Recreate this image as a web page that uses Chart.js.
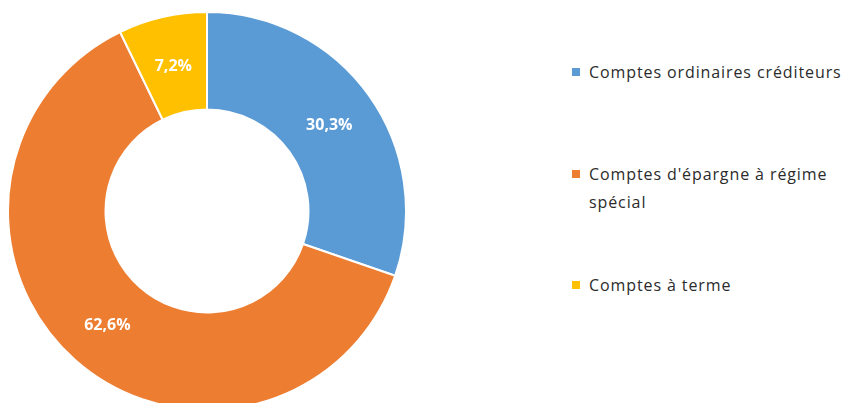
<!DOCTYPE html>
<html lang="fr">
<head>
<meta charset="utf-8">
<script src="https://cdn.jsdelivr.net/npm/chart.js@4/dist/chart.umd.min.js"></script>
<style>
  html, body { margin: 0; padding: 0; background: #fff; overflow: hidden; }
  body { width: 845px; height: 403px; position: relative; }
  #wrap { position: absolute; left: 7px; top: 11px; width: 400px; height: 400px; }
  #legend { position: absolute; left: 572px; top: 0; font-family: "Open Sans", sans-serif; font-size: 16px; letter-spacing: 0.9px; color: #2b2b2b; }
  .item { position: absolute; left: 0; width: 272px; line-height: 28px; white-space: normal; }
  .sw { position: absolute; left: 0; top: 10px; width: 8px; height: 8px; }
  .txt { display: block; margin-left: 17px; }
</style>
</head>
<body>
<div id="wrap"><canvas id="c"></canvas></div>
<div id="legend"></div>
<script>
// Répartition des dépôts par type de compte
const categories = ["Comptes ordinaires créditeurs", "Comptes d'épargne à régime spécial", "Comptes à terme"];
const shares = [30.3, 62.6, 7.2];
const colors = ["#5B9BD5", "#ED7D31", "#FFC000"];
const legendTops = [58, 160, 271];

// Pourcentages écrits au milieu de chaque secteur
const sliceLabels = {
  id: 'sliceLabels',
  afterDatasetsDraw(chart) {
    const ctx = chart.ctx;
    const meta = chart.getDatasetMeta(0);
    ctx.save();
    ctx.font = 'bold 16px "Open Sans", sans-serif';
    ctx.fillStyle = '#fff';
    ctx.textAlign = 'center';
    ctx.textBaseline = 'middle';
    meta.data.forEach((arc, i) => {
      const p = arc.tooltipPosition();
      ctx.fillText(shares[i].toFixed(1).replace('.', ',') + '%', p.x, p.y + 2);
    });
    ctx.restore();
  }
};

new Chart(document.getElementById('c'), {
  type: 'doughnut',
  data: {
    labels: categories,
    datasets: [{
      data: shares,
      backgroundColor: colors,
      borderColor: '#fff',
      borderWidth: 2,
      hoverOffset: 0
    }]
  },
  options: {
    responsive: true,
    maintainAspectRatio: false,
    animation: false,
    cutout: '51%',
    layout: { padding: 0 },
    plugins: { legend: { display: false }, tooltip: { enabled: false } }
  },
  plugins: [sliceLabels]
});

// Légende à droite
const legend = document.getElementById('legend');
categories.forEach((name, i) => {
  const item = document.createElement('div');
  item.className = 'item';
  item.style.top = legendTops[i] + 'px';
  const sw = document.createElement('span');
  sw.className = 'sw';
  sw.style.background = colors[i];
  const t = document.createElement('span');
  t.className = 'txt';
  t.textContent = name;
  item.appendChild(sw);
  item.appendChild(t);
  legend.appendChild(item);
});
</script>
</body>
</html>
